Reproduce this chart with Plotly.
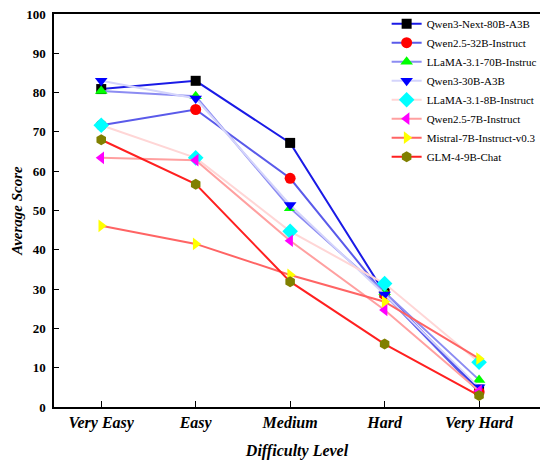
import plotly.graph_objects as go

categories = ["Very Easy", "Easy", "Medium", "Hard", "Very Hard"]

qwen3_next_80b = [80.9, 83.0, 67.2, 29.0, 4.4]
qwen25_32b = [71.7, 75.7, 58.2, 28.6, 3.8]
llama31_70b = [80.4, 79.1, 50.6, 29.2, 6.9]
qwen3_30b = [83.0, 78.5, 51.4, 28.6, 5.0]
llama31_8b = [71.7, 63.4, 44.7, 31.4, 11.4]
qwen25_7b = [63.4, 62.8, 42.3, 24.7, 4.1]
mistral_7b = [46.1, 41.5, 33.6, 26.8, 12.3]
glm4_9b = [68.0, 56.7, 31.9, 16.0, 2.9]

series_names = [
    "Qwen3-Next-80B-A3B", "Qwen2.5-32B-Instruct", "LLaMA-3.1-70B-Instruc",
    "Qwen3-30B-A3B", "LLaMA-3.1-8B-Instruct", "Qwen2.5-7B-Instruct",
    "Mistral-7B-Instruct-v0.3", "GLM-4-9B-Chat",
]
series_values = [qwen3_next_80b, qwen25_32b, llama31_70b, qwen3_30b,
                 llama31_8b, qwen25_7b, mistral_7b, glm4_9b]
line_colors = ["#1a1ae6", "#5a5aea", "#8c8cf2", "#d4d4fb",
               "#ffd6d6", "#ffa0a0", "#ff6464", "#ff2020"]
marker_colors = ["#000000", "#ff0000", "#00ff00", "#0000ff",
                 "#00ffff", "#ff00ff", "#ffff00", "#808000"]
symbols = ["square", "circle", "triangle-up", "triangle-down",
           "diamond", "triangle-left", "triangle-right", "hexagon"]
sizes = [10, 11, 11, 11, 12, 11, 11, 11]

fig = go.Figure()
for name, vals, lc, mc, sym, sz in zip(series_names, series_values, line_colors,
                                       marker_colors, symbols, sizes):
    fig.add_trace(go.Scatter(
        x=categories, y=vals, name=name, mode="lines+markers",
        line=dict(color=lc, width=2),
        marker=dict(symbol=sym, color=mc, size=sz, line=dict(width=0)),
    ))

serif = "Liberation Serif, Times New Roman, serif"
fig.update_layout(
    width=540, height=460,
    margin=dict(l=54, r=0, t=14, b=53, autoexpand=False),
    paper_bgcolor="white", plot_bgcolor="white",
    font=dict(family=serif, color="black"),
    showlegend=True,
    legend=dict(xref="container", yref="container",
                x=0.716, xanchor="left", y=0.980, yanchor="top",
                font=dict(family=serif, size=11, color="black"),
                bgcolor="rgba(255,255,255,0)", borderwidth=0,
                itemwidth=30),
    xaxis=dict(
        range=[-0.5, 4.645], showline=True, linecolor="black", linewidth=1.5,
        mirror=True, ticks="inside", ticklen=6, tickcolor="black", tickwidth=1.2,
        showgrid=False, zeroline=False,
        tickfont=dict(family=serif, size=16, color="black", weight="bold", style="italic"),
        title=dict(text="Difficulty Level", standoff=14,
                   font=dict(family=serif, size=16, color="black", weight="bold", style="italic")),
    ),
    yaxis=dict(
        range=[0, 100], dtick=10, showline=True, linecolor="black", linewidth=1.5,
        mirror=False, ticks="inside", ticklen=5, tickcolor="black", tickwidth=1.2,
        showgrid=False, zeroline=False, ticklabelstandoff=4,
        tickfont=dict(family=serif, size=13, color="black", weight="bold"),
        title=dict(text="Average Score", standoff=0,
                   font=dict(family=serif, size=15, color="black", weight="bold", style="italic")),
    ),
)

fig.write_html("out.html")
